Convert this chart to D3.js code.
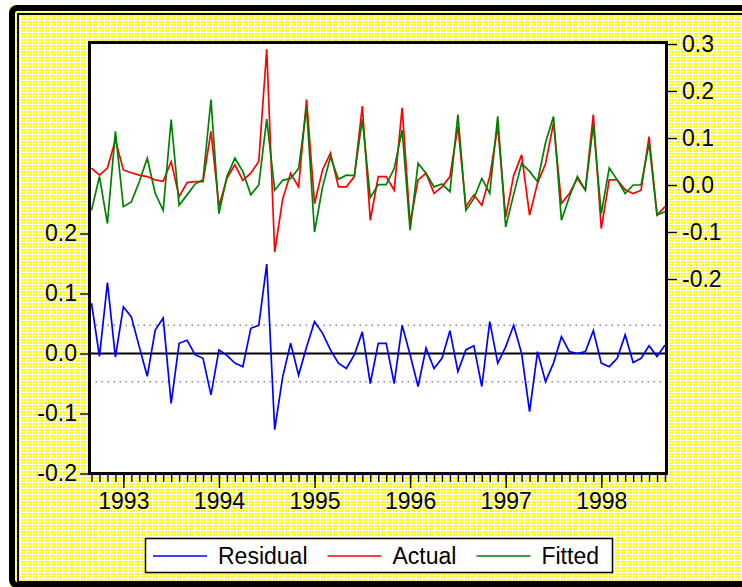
<!DOCTYPE html>
<html>

<head>
    <meta charset="utf-8">
    <style>
        body {
            margin: 0;
            background: #fff;
        }

        svg {
            display: block;
            font-family: 'Liberation Sans', Arial, sans-serif;
        }

        .axis .domain {
            display: none;
        }

        .axis .tick line {
            stroke: #000;
            stroke-width: 1.4;
        }

        .axis .tick text {
            font-size: 23px;
            fill: #000;
        }

        .legend text {
            font-size: 23px;
            fill: #000;
        }
    </style>
</head>

<body>
    <svg width="742" height="587"></svg>
</body>

<script src="https://d3js.org/d3.v7.min.js"></script>

<script>
    // monthly sample, 1992:09 - 1998:09
    let startYear = 1992
    let startMonth = 9

    let residual = [
        0.084, -0.005, 0.118, -0.006, 0.078, 0.061, 0.011, -0.038, 0.039, 0.059,
        -0.083, 0.017, 0.022, -0.002, -0.008, -0.069, 0.006, -0.003, -0.016, -0.022,
        0.042, 0.047, 0.149, -0.127, -0.039, 0.017, -0.036, 0.011, 0.053, 0.034,
        0.006, -0.016, -0.025, -0.002, 0.036, -0.050, 0.017, 0.017, -0.050, 0.047,
        -0.002, -0.055, 0.009, -0.025, -0.008, 0.038, -0.030, 0.006, 0.013, -0.055,
        0.053, -0.016, 0.011, 0.047, 0.000, -0.097, 0.003, -0.047, -0.016, 0.028,
        0.003, 0.000, 0.003, 0.038, -0.016, -0.022, -0.008, 0.031, -0.015, -0.008,
        0.013, -0.005, 0.014
    ]

    let actual = [
        0.036, 0.021, 0.036, 0.096, 0.032, 0.026, 0.021, 0.018, 0.011, 0.008,
        0.050, -0.025, 0.005, 0.007, 0.007, 0.114, -0.045, 0.014, 0.043, 0.010,
        0.025, 0.050, 0.289, -0.143, -0.030, 0.025, -0.004, 0.182, -0.040, 0.032,
        0.068, -0.004, -0.004, 0.018, 0.168, -0.075, 0.018, 0.018, -0.011, 0.164,
        -0.082, 0.011, 0.025, -0.018, -0.004, 0.018, 0.125, -0.046, -0.021, -0.043,
        0.018, 0.125, -0.068, 0.020, 0.064, -0.064, 0.004, 0.045, 0.132, -0.039,
        -0.018, 0.014, -0.011, 0.150, -0.093, 0.011, 0.011, -0.010, -0.018, -0.011,
        0.103, -0.064, -0.046
    ]

    let fitted = [
        -0.054, 0.018, -0.082, 0.114, -0.046, -0.036, 0.007, 0.057, -0.018, -0.054,
        0.139, -0.043, -0.021, 0.002, 0.011, 0.182, -0.061, 0.018, 0.057, 0.029,
        -0.021, 0.000, 0.140, -0.011, 0.010, 0.014, 0.035, 0.164, -0.100, -0.005,
        0.060, 0.012, 0.021, 0.020, 0.140, -0.027, 0.001, 0.001, 0.035, 0.117,
        -0.096, 0.046, 0.025, -0.004, 0.002, -0.014, 0.150, -0.054, -0.029, 0.014,
        -0.018, 0.146, -0.089, -0.020, 0.046, 0.029, 0.007, 0.090, 0.146, -0.075,
        -0.025, 0.018, -0.011, 0.128, -0.061, 0.036, 0.011, -0.018, 0.000, 0.000,
        0.089, -0.064, -0.057
    ]

    // +/- one standard error band of the residuals
    let seBand = 0.047

    let leftTicks = [-0.2, -0.1, 0.0, 0.1, 0.2]
    let leftTickLabels = ["-0.2", "-0.1", "0.0", "0.1", "0.2"]
    let rightTicks = [-0.2, -0.1, 0.0, 0.1, 0.2, 0.3]
    let rightTickLabels = ["-0.2", "-0.1", "0.0", "0.1", "0.2", "0.3"]

    let seriesNames = ["Residual", "Actual", "Fitted"]
    let seriesColors = ["#0000ff", "#ff0000", "#008000"]

    let svg = d3.select("svg")

    let frame = { left: 89.5, top: 42.5, right: 666.5, bottom: 473.5 }

    let months = d3.range(residual.length).map(i => new Date(startYear, startMonth - 1 + i, 1))

    let x = d3.scaleLinear()
        .domain([0, months.length - 1])
        .range([91.5, 665])

    let yLeft = d3.scaleLinear()
        .domain([-0.2, 0.5183])
        .range([frame.bottom, frame.top])

    let yRight = d3.scaleLinear()
        .domain([-0.6138, 0.3032])
        .range([frame.bottom, frame.top])

    // dithered yellow backdrop
    let defs = svg.append("defs")
    let pat = defs.append("pattern")
        .attr("id", "dither")
        .attr("width", 3)
        .attr("height", 3)
        .attr("patternUnits", "userSpaceOnUse")
    pat.append("rect").attr("width", 3).attr("height", 3).attr("fill", "#ffffff")
    pat.append("rect").attr("width", 2).attr("height", 2).attr("fill", "#ffff00")

    svg.append("rect")
        .attr("x", 10).attr("y", 6)
        .attr("width", 800).attr("height", 600)
        .attr("fill", "url(#dither)")

    // window frame: heavy outer edge, thin inner edge
    svg.append("rect")
        .attr("x", 12).attr("y", 8)
        .attr("width", 800).attr("height", 577)
        .attr("rx", 5)
        .attr("fill", "none")
        .attr("stroke", "#000")
        .attr("stroke-width", 6)
    svg.append("rect")
        .attr("x", 18).attr("y", 14)
        .attr("width", 800).attr("height", 568)
        .attr("fill", "none")
        .attr("stroke", "#000")
        .attr("stroke-width", 2)

    // plot area
    svg.append("rect")
        .attr("x", frame.left).attr("y", frame.top)
        .attr("width", frame.right - frame.left)
        .attr("height", frame.bottom - frame.top)
        .attr("fill", "#fff")

    // standard error bands + zero line
    svg.append("g")
        .selectAll("line")
        .data([seBand, -seBand])
        .join("line")
        .attr("x1", frame.left).attr("x2", frame.right)
        .attr("y1", d => yLeft(d)).attr("y2", d => yLeft(d))
        .attr("stroke", "#888")
        .attr("stroke-width", 1.5)
        .attr("stroke-dasharray", "1.5,4.5")

    svg.append("line")
        .attr("x1", frame.left).attr("x2", frame.right)
        .attr("y1", yLeft(0)).attr("y2", yLeft(0))
        .attr("stroke", "#000")
        .attr("stroke-width", 2)

    let residLine = d3.line()
        .x((d, i) => x(i))
        .y(d => yLeft(d))

    let upperLine = d3.line()
        .x((d, i) => x(i))
        .y(d => yRight(d))

    svg.append("path")
        .datum(residual)
        .attr("fill", "none")
        .attr("stroke", seriesColors[0])
        .attr("stroke-width", 1.7)
        .attr("d", residLine)

    svg.append("path")
        .datum(actual)
        .attr("fill", "none")
        .attr("stroke", seriesColors[1])
        .attr("stroke-width", 1.7)
        .attr("d", upperLine)

    svg.append("path")
        .datum(fitted)
        .attr("fill", "none")
        .attr("stroke", seriesColors[2])
        .attr("stroke-width", 1.7)
        .attr("d", upperLine)

    svg.append("rect")
        .attr("x", frame.left).attr("y", frame.top)
        .attr("width", frame.right - frame.left)
        .attr("height", frame.bottom - frame.top)
        .attr("fill", "none")
        .attr("stroke", "#000")
        .attr("stroke-width", 3)

    // axes
    svg.append("g")
        .attr("class", "axis")
        .attr("transform", `translate(${frame.left - 1.5},0)`)
        .call(d3.axisLeft(yLeft)
            .tickValues(leftTicks)
            .tickSize(8)
            .tickPadding(3)
            .tickFormat((d, i) => leftTickLabels[i]))

    svg.append("g")
        .attr("class", "axis")
        .attr("transform", `translate(${frame.right + 1.5},0)`)
        .call(d3.axisRight(yRight)
            .tickValues(rightTicks)
            .tickSize(9)
            .tickPadding(5)
            .tickFormat((d, i) => rightTickLabels[i]))

    svg.append("g")
        .attr("class", "axis")
        .attr("transform", `translate(0,${frame.bottom + 1.5})`)
        .call(d3.axisBottom(x)
            .tickValues(d3.range(months.length))
            .tickSize(7)
            .tickFormat(""))

    let janIdx = d3.range(months.length).filter(i => months[i].getMonth() === 0)

    svg.append("g")
        .attr("class", "axis")
        .attr("transform", `translate(0,${frame.bottom + 1.5})`)
        .call(d3.axisBottom(x)
            .tickValues(janIdx)
            .tickSize(13)
            .tickPadding(5)
            .tickFormat(i => months[i].getFullYear()))

    // legend
    let legend = svg.append("g").attr("class", "legend")

    legend.append("rect")
        .attr("x", 145.5).attr("y", 538.5)
        .attr("width", 467).attr("height", 34)
        .attr("fill", "#fff")
        .attr("stroke", "#000")
        .attr("stroke-width", 1.5)

    let lx = 153
    seriesNames.forEach((name, i) => {
        legend.append("line")
            .attr("x1", lx).attr("x2", lx + 54)
            .attr("y1", 556).attr("y2", 556)
            .attr("stroke", seriesColors[i])
            .attr("stroke-width", 1.7)
        let t = legend.append("text")
            .attr("x", lx + 65)
            .attr("y", 564)
            .text(name)
        lx = lx + 65 + t.node().getComputedTextLength() + 20
    })
</script>

</html>
